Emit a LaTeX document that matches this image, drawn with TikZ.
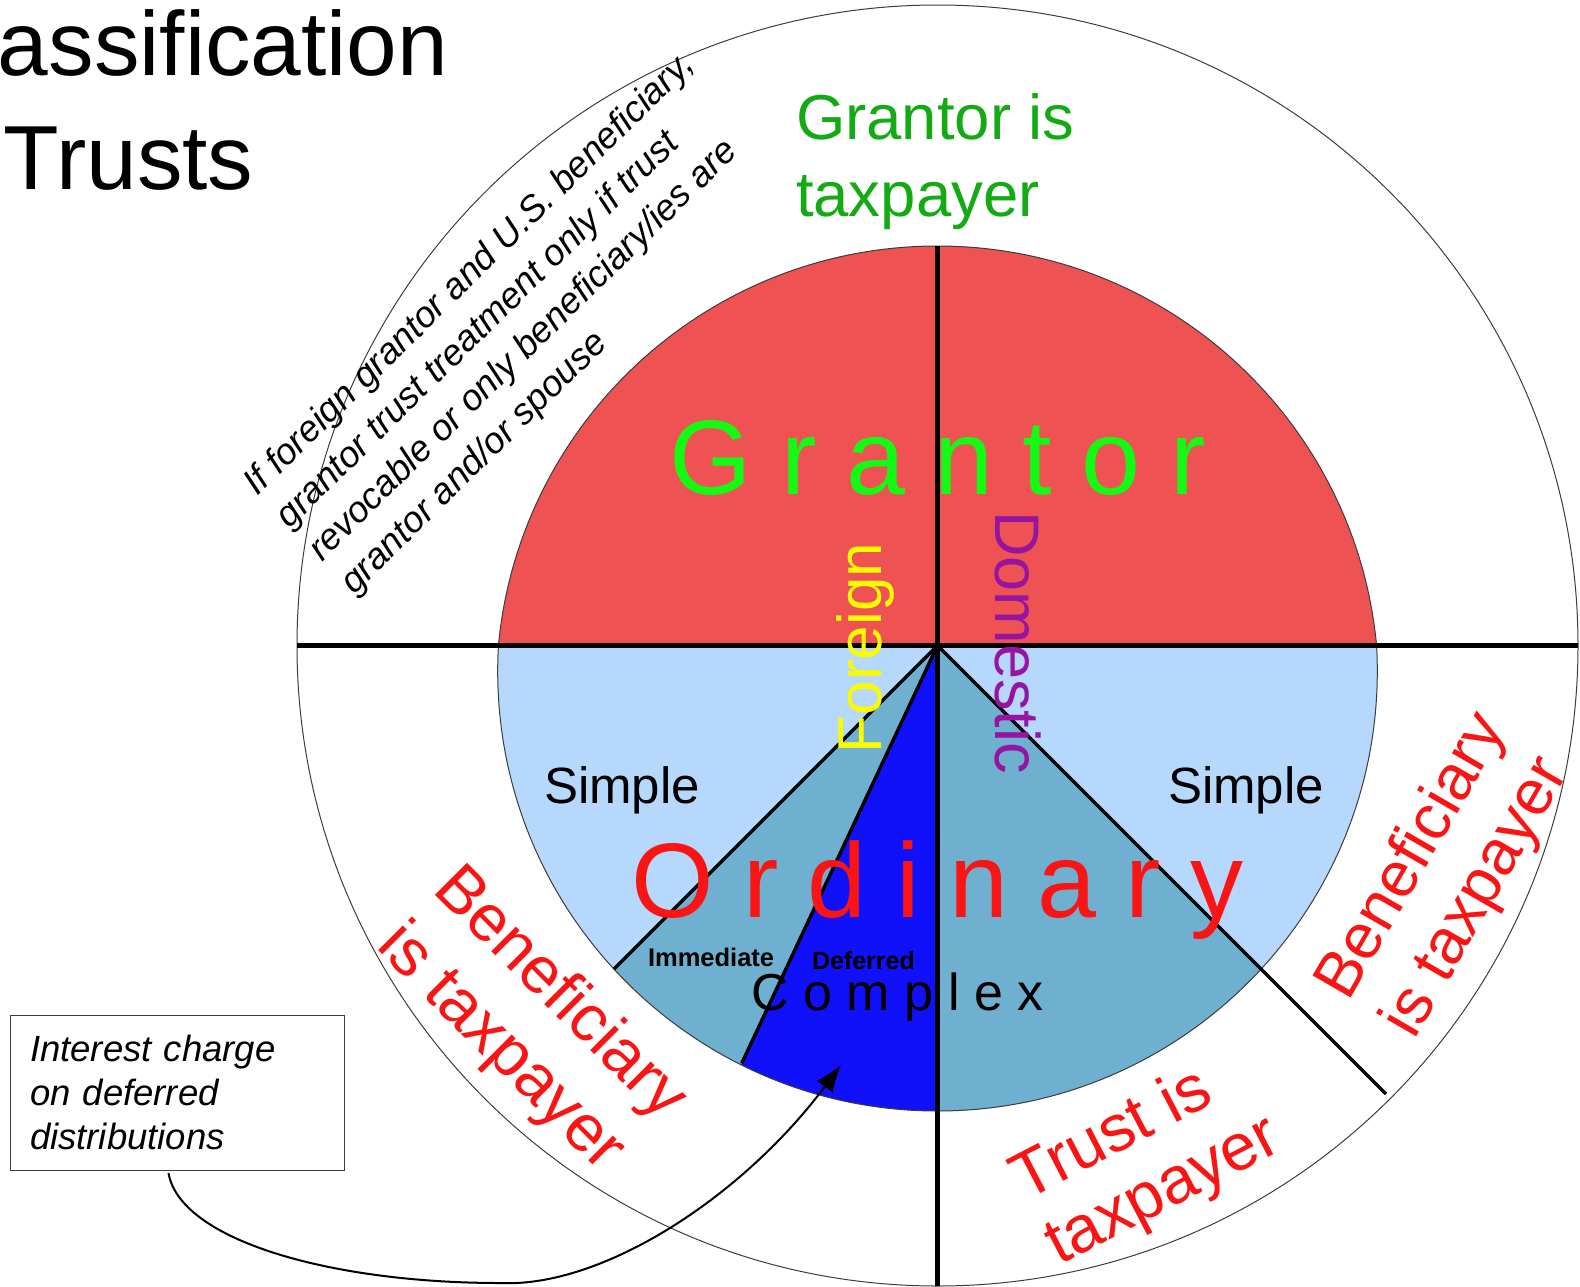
\documentclass[tikz,border=0pt]{standalone}
\usepackage{fontspec}
\setmainfont{Liberation Sans}
\usetikzlibrary{arrows.meta}
\definecolor{redfill}{RGB}{238,82,82}
\definecolor{lightblue}{RGB}{181,216,252}
\definecolor{midblue}{RGB}{111,175,207}
\definecolor{deepblue}{RGB}{16,16,250}
\definecolor{brightgreen}{RGB}{20,250,20}
\definecolor{darkgreen}{RGB}{20,170,20}
\definecolor{redtext}{RGB}{250,20,20}
\definecolor{yellowtext}{RGB}{250,250,0}
\definecolor{purpletext}{RGB}{150,20,160}
\definecolor{edgegray}{RGB}{60,60,60}
\newcommand{\fsz}[2]{\fontsize{#1}{#2}\selectfont}
\begin{document}
\begin{tikzpicture}[x=1pt,y=-1pt,
  every node/.style={inner sep=0pt, outer sep=0pt},
  divider/.style={line width=4.3pt, black},
  diag/.style={line width=3.4pt, black},
  rim/.style={line width=1pt, edgegray},
  title/.style={font=\fsz{91}{100}, anchor=base west},
  spaced/.style={anchor=base},
  sidelabel/.style={font=\fsz{51}{60}, anchor=base west},
  ringlabel/.style={text=redtext, anchor=center, align=left},
  note/.style={font=\itshape\fsz{36.5}{46}, anchor=north west, rotate=44.5, align=left},
  callout/.style={draw=edgegray, line width=1pt, font=\itshape\fsz{36.5}{44},
    align=left, text width=294pt, inner xsep=20pt, inner ysep=0pt,
    minimum height=155pt, anchor=west},
  pointer/.style={line width=2pt, black, -{Latex[length=27pt,width=20pt]}}
]
\useasboundingbox (0,0) rectangle (1580,1286);
\coordinate (C) at (937.5,645.5);
\coordinate (topC) at (937.5,687);
\coordinate (botC) at (937.5,671.2);
% upper segment
\begin{scope}
  \clip (0,0) rectangle (1580,645.5);
  \fill[redfill] (topC) circle[radius=441];
  \draw[rim] (topC) circle[radius=441];
\end{scope}
% lower segment
\begin{scope}
  \clip (0,645.5) rectangle (1580,1286);
  \begin{scope}
    \clip (botC) circle[radius=439.8];
    \fill[lightblue] (0,645.5) rectangle (1580,1286);
    \fill[midblue] (C) -- (437.5,1145.5) -- (1437.5,1145.5) -- cycle;
    \fill[deepblue] (C) -- (640.5,1279.5) -- (937.5,1279.5) -- cycle;
  \end{scope}
  \draw[rim] (botC) circle[radius=439.8];
\end{scope}
% outer ring
\draw[rim] (C) circle[radius=640.5];
% dividers
\coordinate (hl) at (297.3,645.5);
\coordinate (hr) at (1578.3,645.5);
\coordinate (vt) at (937.5,246);
\coordinate (vb) at (937.5,1286);
\coordinate (dr) at (1386,1094);
\coordinate (dl) at (613.9,969.1);
\coordinate (dw) at (741.7,1063.3);
\draw[divider] (hl) -- (hr);
\draw[divider] (vt) -- (vb);
\draw[diag] (C) -- (dr);
\draw[diag] (C) -- (dl);
\draw[diag] (C) -- (dw);
% title
\node[title] (t1) at (-2,75) {assification};
\node[title] (t2) at (4,189) {Trusts};
% main words
\node[spaced, font=\fsz{106}{110}, text=brightgreen] (grantor) at (937.5,494) {G r a n t o r};
\node[spaced, font=\fsz{106}{110}, text=redtext] (ordinary) at (937.5,917) {O r d i n a r y};
\node[spaced, font=\fsz{52}{60}, text=black] (complex) at (897.5,1010) {C o m p l e x};
\node[sidelabel] (simpleL) at (544,803) {Simple};
\node[sidelabel] (simpleR) at (1168,803) {Simple};
\node[font=\bfseries\fsz{25.5}{30}, anchor=base west] (immediate) at (648,966) {Immediate};
\node[font=\bfseries\fsz{25}{30}, anchor=base west] (deferred) at (812,969) {Deferred};
\node[font=\fsz{62}{70}, text=yellowtext, rotate=90, anchor=base west] (foreign) at (881.7,753) {Foreign};
\node[font=\fsz{63}{70}, text=purpletext, rotate=-90, anchor=base west] (domestic) at (995,511) {Domestic};
% ring labels
\node[font=\fsz{63.5}{77}, text=darkgreen, anchor=base west] (gt1) at (796,139.7) {Grantor is};
\node[font=\fsz{63.5}{77}, text=darkgreen, anchor=base west] (gt2) at (796,216.7) {taxpayer};
\node[ringlabel, font=\fsz{66}{80}, rotate=-45] (bl) at (531,1023) {Beneficiary\\is taxpayer};
\node[ringlabel, font=\fsz{64}{76}, rotate=60] (br) at (1446,876) {Beneficiary\\is taxpayer};
\node[ringlabel, font=\fsz{66}{73}, rotate=27.5] (tt) at (1147,1160) {Trust is\\taxpayer};
% note on foreign grantor
\node[note] (note) at (239,478) {If foreign grantor and U.S. beneficiary,\\grantor trust treatment only if trust\\revocable or only beneficiary/ies are\\grantor and/or spouse};
% callout box and pointer
\node[callout] (box) at (10,1092.5) {Interest charge\\on deferred\\distributions};
\coordinate (tip) at (841,1065);
\coordinate (low) at (500,1283);
\draw[pointer] ([xshift=-8.5pt,yshift=-3pt]box.south) .. controls (180,1240) and (330,1283) .. (low)
  .. controls (600,1288) and (740,1200) .. (tip);
\end{tikzpicture}
\end{document}
